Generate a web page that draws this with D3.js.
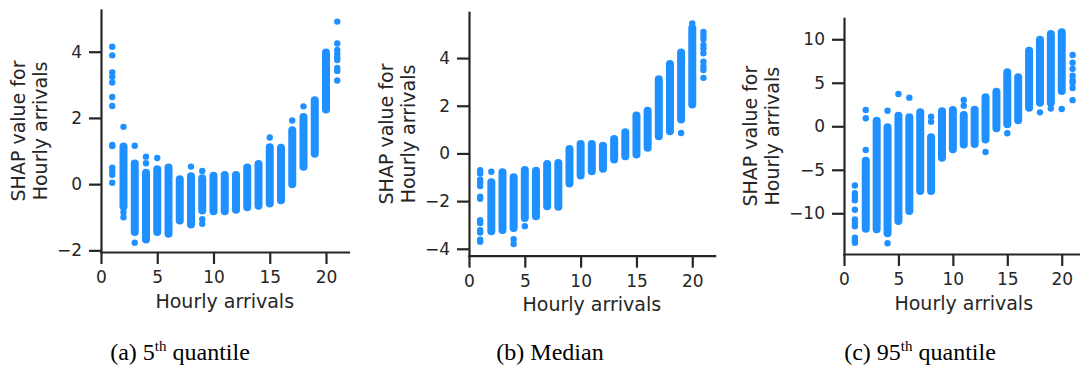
<!DOCTYPE html>
<html>
<head>
<meta charset="utf-8">
<script src="https://cdn.jsdelivr.net/npm/d3@7"></script>
<style>
  body { margin: 0; background: #fff; }
  svg { display: block; }
  .tick text { font-family: "DejaVu Sans", sans-serif; font-size: 17px; fill: #262626; }
  .axis-label { font-family: "DejaVu Sans", sans-serif; font-size: 19px; fill: #262626; }
  .caption { font-family: "Liberation Serif", "Times New Roman", serif; font-size: 24px; fill: #000; }
</style>
</head>
<body>
<svg id="chart" width="1080" height="370"></svg>
<script>
// hourly arrivals that have a full column of points (1 and 21 only have a few dots)
const arrivals = [2, 3, 4, 5, 6, 7, 8, 9, 10, 11, 12, 13, 14, 15, 16, 17, 18, 19, 20];
const xTicks = [0, 5, 10, 15, 20];

// (a) 5th quantile - lowest / highest SHAP value in each column
const lowA = [-0.7, -1.47, -1.7, -1.47, -1.52, -1.12, -1.24, -0.82, -0.84, -0.84, -0.8, -0.72, -0.68, -0.61, -0.51, -0.03, 0.5, 0.89, 2.23];
const highA = [1.16, 0.65, 0.37, 0.47, 0.53, 0.17, 0.26, 0.2, 0.28, 0.3, 0.3, 0.53, 0.63, 1.14, 1.12, 1.65, 2.05, 2.56, 4.0];
// single dots outside the columns: [hourly arrivals, SHAP value]
const extraA = [
    [1, 4.15], [1, 3.89], [1, 3.37], [1, 3.24], [1, 3.07], [1, 2.63], [1, 2.36], [1, 1.18], [1, 1.15],
    [1, 0.5], [1, 0.38], [1, 0.28], [1, 0.04],
    [2, 1.73], [2, -0.85], [2, -1.0], [3, 1.16], [3, -1.77], [4, 0.83], [4, 0.63], [5, 0.79],
    [8, 0.53], [9, 0.4], [9, -1.06], [9, -1.2], [15, 1.41], [17, 1.92], [18, 2.35],
    [21, 4.91], [21, 4.25], [21, 4.05], [21, 3.93], [21, 3.83], [21, 3.75], [21, 3.51], [21, 3.42], [21, 3.13]
];
const yTicksA = [-2, 0, 2, 4];

// (b) Median
const lowB = [-3.3, -3.25, -3.16, -2.74, -2.67, -2.25, -2.27, -1.3, -0.96, -0.78, -0.68, -0.29, -0.15, -0.08, 0.2, 0.69, 0.9, 1.39, 2.02];
const highB = [-1.18, -0.76, -0.97, -0.66, -0.69, -0.41, -0.37, 0.22, 0.43, 0.43, 0.36, 0.64, 0.92, 1.62, 1.82, 3.15, 3.78, 4.27, 5.3];
const extraB = [
    [1, -0.7], [1, -0.84], [1, -1.1], [1, -1.22], [1, -1.37], [1, -1.82], [1, -1.9], [1, -2.8], [1, -2.92],
    [1, -3.22], [1, -3.32], [1, -3.62], [1, -3.7],
    [2, -0.77], [4, -3.6], [4, -3.8], [5, -3.05], [19, 0.86], [20, 5.45],
    [21, 5.1], [21, 4.95], [21, 4.8], [21, 4.55], [21, 4.4], [21, 4.2], [21, 3.85], [21, 3.65], [21, 3.5], [21, 3.17]
];
const yTicksB = [-4, -2, 0, 2, 4];

// (c) 95th quantile
const lowC = [-11.86, -11.93, -12.4, -10.97, -9.83, -7.53, -7.53, -3.7, -2.73, -2.2, -2.13, -1.6, -0.32, 0.14, 0.6, 2.05, 2.62, 2.6, 3.97];
const highC = [-3.86, 0.73, -0.03, 1.31, 1.12, 1.7, -1.17, 1.81, 1.96, 1.39, 2.0, 3.42, 4.07, 6.3, 5.72, 8.78, 10.04, 10.7, 10.9];
const extraC = [
    [1, -6.8], [1, -7.7], [1, -8.1], [1, -8.5], [1, -9.6], [1, -10.7], [1, -11.1], [1, -11.5],
    [1, -12.8], [1, -13.1], [1, -13.4],
    [2, 1.87], [2, 0.92], [2, -2.72], [4, 1.79], [4, -13.45], [5, 3.71], [6, 3.29], [8, 1.1], [8, 0.53],
    [11, 3.02], [11, 2.37], [13, -2.95], [15, -0.8], [18, 1.6], [19, 2.05], [20, 1.99],
    [21, 8.2], [21, 7.3], [21, 6.6], [21, 5.8], [21, 5.3], [21, 5.0], [21, 4.4], [21, 3.0]
];
const yTicksC = [-10, -5, 0, 5, 10];

const dotColor = '#1e90ff';
const axisColor = '#262626';
const dotR = 3.2;
const colW = 8;

const svg = d3.select('#chart');

// pixel boxes of the three axes
const panels = [
    { low: lowA, high: highA, extra: extraA, yTicks: yTicksA, yDomain: [-2.05, 5.26],
      left: 101, right: 348.5, bottom: 252, top: 10,
      caption: ['(a) 5', 'th', ' quantile'], capX: 180 },
    { low: lowB, high: highB, extra: extraB, yTicks: yTicksB, yDomain: [-4.29, 5.92],
      left: 469, right: 714.6, bottom: 255.7, top: 12.3,
      caption: ['(b) Median', '', ''], capX: 550 },
    { low: lowC, high: highC, extra: extraC, yTicks: yTicksC, yDomain: [-14.68, 12.41],
      left: 844, right: 1083.5, bottom: 254, top: 18.3,
      caption: ['(c) 95', 'th', ' quantile'], capX: 920 }
];

panels.forEach(p => {
    const x = d3.scaleLinear().domain([0, 22]).range([p.left, p.right]);
    const y = d3.scaleLinear().domain(p.yDomain).range([p.bottom, p.top]);
    const g = svg.append('g');

    // dense columns of dots, drawn as one rounded bar each
    g.selectAll('rect.col')
        .data(arrivals)
        .join('rect')
        .attr('class', 'col')
        .attr('x', d => x(d) - colW / 2)
        .attr('width', colW)
        .attr('y', (d, i) => y(p.high[i]) - dotR)
        .attr('height', (d, i) => y(p.low[i]) - y(p.high[i]) + 2 * dotR)
        .attr('rx', colW / 2)
        .attr('fill', dotColor);

    g.selectAll('circle.dot')
        .data(p.extra)
        .join('circle')
        .attr('class', 'dot')
        .attr('cx', d => x(d[0]))
        .attr('cy', d => y(d[1]))
        .attr('r', dotR)
        .attr('fill', dotColor);

    const xAxis = d3.axisBottom(x).tickValues(xTicks).tickSize(12).tickPadding(7).tickSizeOuter(0);
    const yAxis = d3.axisLeft(y).tickValues(p.yTicks).tickSize(12).tickPadding(7).tickSizeOuter(0);

    const gx = g.append('g')
        .attr('transform', `translate(0,${p.bottom})`)
        .call(xAxis);
    const gy = g.append('g')
        .attr('transform', `translate(${p.left},0)`)
        .call(yAxis);

    [gx, gy].forEach(ax => {
        ax.select('.domain').attr('stroke', axisColor).attr('stroke-width', 2.2).attr('stroke-linecap', 'square');
        ax.selectAll('.tick line').attr('stroke', axisColor).attr('stroke-width', 2.2);
        ax.attr('font-family', null).attr('font-size', null);
    });

    g.append('text')
        .attr('class', 'axis-label')
        .attr('x', (p.left + p.right) / 2)
        .attr('y', p.bottom + 55.5)
        .attr('text-anchor', 'middle')
        .text('Hourly arrivals');

    // y label sits left of the widest tick label
    const tickLeft = p.left + gy.node().getBBox().x;
    const midY = (p.top + p.bottom) / 2;
    const yl = g.append('text')
        .attr('class', 'axis-label')
        .attr('transform', `translate(${tickLeft - 10},${midY}) rotate(-90)`)
        .attr('text-anchor', 'middle');
    yl.append('tspan').attr('x', 0).attr('y', -22).text('SHAP value for');
    yl.append('tspan').attr('x', 0).attr('y', 0).text('Hourly arrivals');

    const cap = svg.append('text')
        .attr('class', 'caption')
        .attr('x', p.capX)
        .attr('y', 360)
        .attr('text-anchor', 'middle');
    cap.append('tspan').text(p.caption[0]);
    if (p.caption[1]) {
        cap.append('tspan').attr('font-size', 15).attr('dy', -9).text(p.caption[1]);
        cap.append('tspan').attr('dy', 9).text(p.caption[2]);
    }
});
</script>
</body>
</html>
